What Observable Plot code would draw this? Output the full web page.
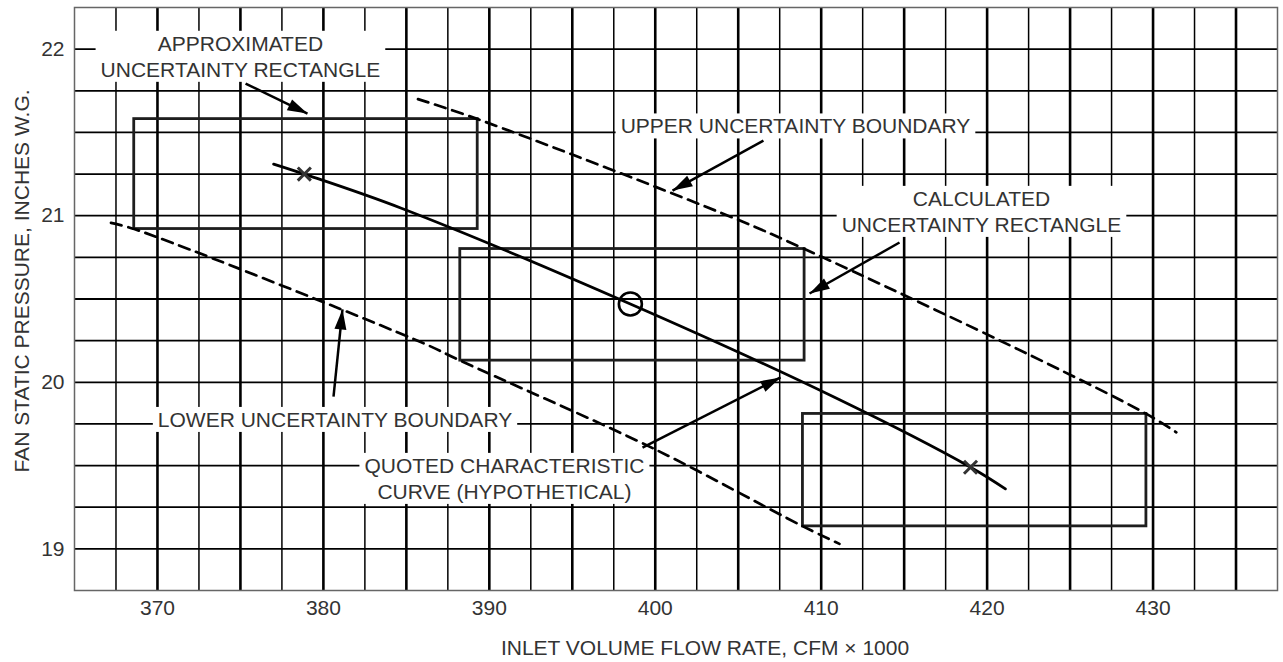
<!DOCTYPE html>
<html>
<head>
<meta charset="utf-8">
<script src="https://cdn.jsdelivr.net/npm/d3@7"></script>
<script src="https://cdn.jsdelivr.net/npm/@observablehq/plot@0.6"></script>
<style>
  html, body { margin: 0; padding: 0; background: #fff; }
</style>
</head>
<body>
<script>
// ---- tick labels / grid ----
const xTicks = [370, 380, 390, 400, 410, 420, 430];
const yTicks = [19, 20, 21, 22];
const gridXMajor = [370, 375, 380, 385, 390, 395, 400, 405, 410, 415, 420, 425, 430, 435];
const gridXMinor = [367.5, 372.5, 377.5, 382.5, 387.5, 392.5, 397.5, 402.5, 407.5, 412.5, 417.5, 422.5, 427.5, 432.5];
const gridY = [19, 19.25, 19.5, 19.75, 20, 20.25, 20.5, 20.75, 21, 21.25, 21.5, 21.75, 22];

// ---- quoted characteristic curve ----
const curveX = [377.0, 378.85, 384.7, 398.5, 410.8, 419.0, 421.1];
const curveY = [21.31, 21.25, 21.045, 20.47, 19.91, 19.49, 19.36];

// ---- upper / lower uncertainty boundaries ----
const upperX = [385.7, 389.3, 404.76, 409.0, 422.65, 429.6, 431.4];
const upperY = [21.70, 21.58, 20.985, 20.80, 20.16, 19.81, 19.70];
const lowerX = [367.2, 368.6, 385.9, 388.25, 399.94, 408.9, 411.1];
const lowerY = [20.957, 20.92, 20.24, 20.13, 19.60, 19.135, 19.03];

// ---- uncertainty rectangles ----
const rectX1 = [368.6, 388.25, 408.9];
const rectX2 = [389.3, 409.0, 429.6];
const rectY1 = [20.92, 20.13, 19.135];
const rectY2 = [21.58, 20.80, 19.81];

// ---- points ----
const circleX = [398.5];
const circleY = [20.47];
const crossX = [378.85, 419.0];
const crossY = [21.25, 19.49];

// ---- annotations ----
const noteText = [
  "APPROXIMATED\nUNCERTAINTY RECTANGLE",
  "UPPER UNCERTAINTY BOUNDARY",
  "CALCULATED\nUNCERTAINTY RECTANGLE",
  "LOWER UNCERTAINTY BOUNDARY",
  "QUOTED CHARACTERISTIC\nCURVE (HYPOTHETICAL)"
];
const noteX = [375.0, 408.45, 419.66, 380.70, 390.91];
const noteY = [21.962, 21.544, 21.031, 19.782, 19.428];

const arrowX1 = [375.31, 406.52, 414.72, 380.61, 399.23];
const arrowY1 = [21.793, 21.451, 20.839, 19.914, 19.608];
const arrowX2 = [379.04, 401.04, 409.30, 381.15, 407.55];
const arrowY2 = [21.613, 21.151, 20.533, 20.437, 20.029];

const xTitle = "INLET VOLUME FLOW RATE, CFM × 1000";
const yTitle = "FAN STATIC PRESSURE, INCHES W.G.";

// ---- tables built from arrays ----
const curve = curveX.map((x, i) => ({x, y: curveY[i]}));
const upper = upperX.map((x, i) => ({x, y: upperY[i]}));
const lower = lowerX.map((x, i) => ({x, y: lowerY[i]}));
const rects = rectX1.map((x1, i) => ({x1, x2: rectX2[i], y1: rectY1[i], y2: rectY2[i]}));
const circles = circleX.map((x, i) => ({x, y: circleY[i]}));
const crosses = crossX.map((x, i) => ({x, y: crossY[i]}));
const notes = noteText.map((text, i) => ({text, x: noteX[i], y: noteY[i]}));
const arrows = arrowX1.map((x1, i) => ({x1, y1: arrowY1[i], x2: arrowX2[i], y2: arrowY2[i]}));

const FONT = "'Liberation Sans', Arial, Helvetica, sans-serif";
const TXT = "#333";

const chart = Plot.plot({
  width: 1283,
  height: 662,
  marginLeft: 74,
  marginRight: 6,
  marginTop: 7,
  marginBottom: 72,
  style: {fontFamily: FONT, fontSize: "21px", color: TXT, background: "#fff", overflow: "visible"},
  x: {domain: [365, 437.5], ticks: xTicks, tickSize: 0, tickPadding: 10, tickFormat: d => String(d), label: null},
  y: {domain: [18.75, 22.25], ticks: yTicks, tickSize: 0, tickPadding: 10, tickFormat: d => String(d), label: null},
  marks: [
    Plot.ruleY(gridY, {stroke: "#000", strokeWidth: 1.8}),
    Plot.ruleX(gridXMinor, {stroke: "#000", strokeWidth: 1.5}),
    Plot.ruleX(gridXMajor, {stroke: "#000", strokeWidth: 2.6}),
    Plot.frame({stroke: "#666", strokeWidth: 1.5}),
    Plot.text(notes, {
      x: "x", y: "y", text: "text",
      textAnchor: "middle", lineAnchor: "middle", lineHeight: 1.24,
      fontSize: 21, fill: TXT, ariaLabel: "annotations"
    }),
    Plot.rect(rects, {x1: "x1", x2: "x2", y1: "y1", y2: "y2", fill: "none", stroke: "#1e1e1e", strokeWidth: 2.8}),
    Plot.line(upper, {x: "x", y: "y", curve: "catmull-rom", stroke: "#000", strokeWidth: 2.7, strokeDasharray: "11,7"}),
    Plot.line(lower, {x: "x", y: "y", curve: "catmull-rom", stroke: "#000", strokeWidth: 2.7, strokeDasharray: "11,7"}),
    Plot.line(curve, {x: "x", y: "y", curve: "catmull-rom", stroke: "#000", strokeWidth: 2.8}),
    Plot.dot(circles, {x: "x", y: "y", r: 11.5, fill: "none", stroke: "#000", strokeWidth: 2.6}),
    Plot.dot(crosses, {x: "x", y: "y", symbol: "times", r: 6, stroke: "#333", strokeWidth: 3}),
    Plot.link(arrows, {x1: "x1", y1: "y1", x2: "x2", y2: "y2", stroke: "#000", strokeWidth: 2.5, markerEnd: "arrow"}),
    Plot.text([xTitle], {text: d => d, frameAnchor: "bottom", dx: 29, dy: 58, textAnchor: "middle", lineAnchor: "middle", fontSize: 21, fill: TXT}),
    Plot.text([yTitle], {text: d => d, frameAnchor: "left", rotate: -90, dx: -52, dy: -18, textAnchor: "middle", lineAnchor: "middle", fontSize: 21, fill: TXT})
  ]
});

document.body.append(chart);

// white backing boxes behind annotation labels
const SVGNS = "http://www.w3.org/2000/svg";
let noteTexts = [];
const g = chart.querySelector('g[aria-label="annotations"]');
if (g) noteTexts = Array.from(g.querySelectorAll("text"));
if (!noteTexts.length) {
  const keys = noteText.map(s => s.replace(/\s+/g, ""));
  noteTexts = Array.from(chart.querySelectorAll("text")).filter(t => keys.includes(t.textContent.replace(/\s+/g, "")));
}
noteTexts.forEach(t => {
  const b = t.getBBox();
  const padX = 5, padY = 1;
  const r = document.createElementNS(SVGNS, "rect");
  r.setAttribute("x", b.x - padX);
  r.setAttribute("y", b.y - padY);
  r.setAttribute("width", b.width + 2 * padX);
  r.setAttribute("height", b.height + 2 * padY);
  r.setAttribute("fill", "#fff");
  r.setAttribute("stroke", "none");
  const tr = t.getAttribute("transform");
  if (tr) r.setAttribute("transform", tr);
  t.parentNode.insertBefore(r, t);
});

// filled arrowheads
chart.querySelectorAll("marker").forEach(m => {
  m.setAttribute("viewBox", "-21 -7 22 14");
  m.setAttribute("markerUnits", "userSpaceOnUse");
  m.setAttribute("markerWidth", 22);
  m.setAttribute("markerHeight", 14);
  m.setAttribute("refX", 0);
  m.setAttribute("refY", 0);
  m.setAttribute("orient", "auto");
  m.setAttribute("fill", "#000");
  m.setAttribute("stroke", "none");
  while (m.firstChild) m.removeChild(m.firstChild);
  const p = document.createElementNS(SVGNS, "path");
  p.setAttribute("d", "M-20,-6L0,0L-20,6Z");
  p.setAttribute("fill", "#000");
  p.setAttribute("stroke", "none");
  m.appendChild(p);
});
</script>
</body>
</html>
